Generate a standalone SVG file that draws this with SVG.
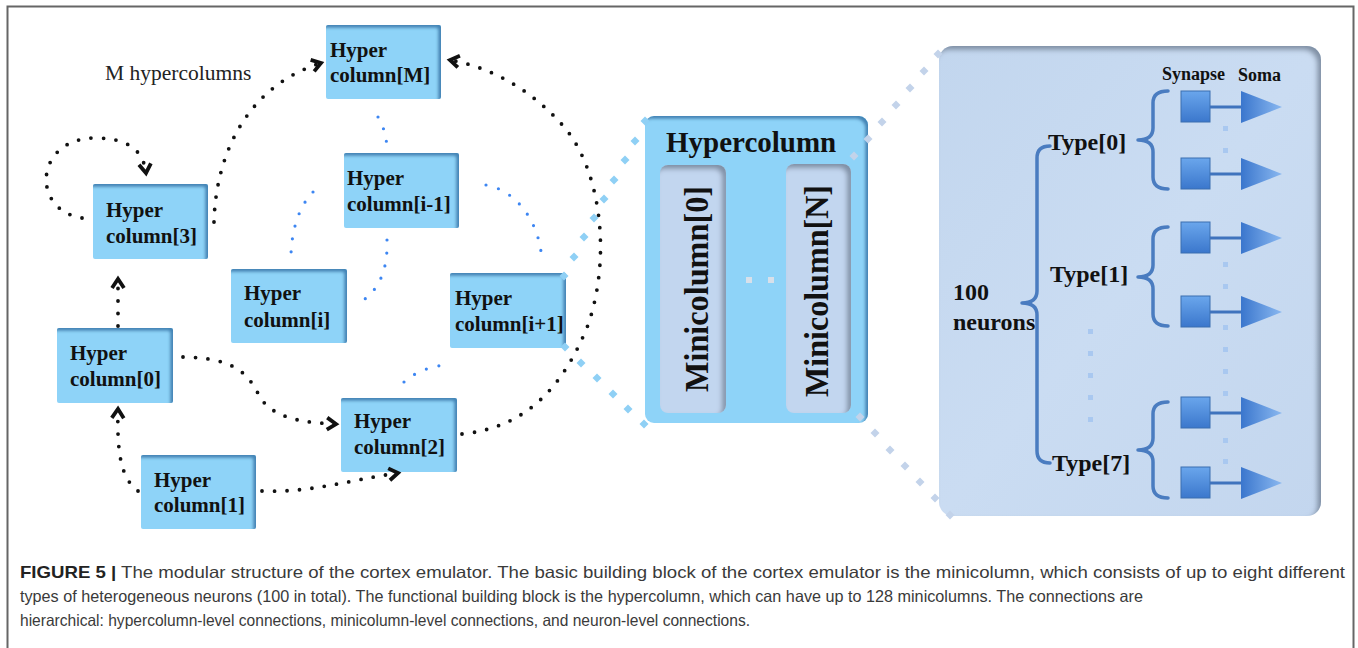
<svg xmlns="http://www.w3.org/2000/svg" width="1358" height="648" viewBox="0 0 1358 648">
<style>
.hc { fill:#8ed3f8; filter:url(#insetBlue); }
.hct { font-family:"Liberation Serif","Times New Roman",serif; font-weight:bold; font-size:21px; fill:#111; }
.big { font-family:"Liberation Serif","Times New Roman",serif; font-weight:bold; fill:#111; }
.dotk { fill:none; stroke:#111; stroke-width:3.8; stroke-linecap:round; stroke-dasharray:0 12.5; }
.dotb { fill:none; stroke:#3d86f2; stroke-width:3.2; stroke-linecap:round; stroke-dasharray:0 13; }
.br { fill:none; stroke:#4a7cc0; stroke-width:3.5; stroke-linecap:round; stroke-linejoin:round; }
.syn { fill:url(#gSyn); stroke:#3b6fb0; stroke-width:1; }
.axon { stroke:#3f73bd; stroke-width:3; }
.soma { fill:url(#gSoma); }
.vd { fill:#a9c8f0; }
.cap { font-family:"Liberation Sans",Arial,sans-serif; font-size:16.5px; fill:#3a3a3a; }
</style>
<defs>
<filter id="insetBlue" x="-10%" y="-10%" width="120%" height="120%">
<feComponentTransfer in="SourceAlpha"><feFuncA type="table" tableValues="1 0"/></feComponentTransfer>
<feGaussianBlur stdDeviation="1.6"/>
<feOffset dx="-3" dy="3" result="ob"/>
<feFlood flood-color="#3579ad" flood-opacity="0.9"/>
<feComposite in2="ob" operator="in"/>
<feComposite in2="SourceAlpha" operator="in" result="sh"/>
<feMerge><feMergeNode in="SourceGraphic"/><feMergeNode in="sh"/></feMerge>
</filter>
<filter id="insetGray" x="-10%" y="-10%" width="120%" height="120%">
<feComponentTransfer in="SourceAlpha"><feFuncA type="table" tableValues="1 0"/></feComponentTransfer>
<feGaussianBlur stdDeviation="2.5"/>
<feOffset dx="-4" dy="4" result="ob"/>
<feFlood flood-color="#6d7d92" flood-opacity="0.85"/>
<feComposite in2="ob" operator="in"/>
<feComposite in2="SourceAlpha" operator="in" result="sh"/>
<feMerge><feMergeNode in="SourceGraphic"/><feMergeNode in="sh"/></feMerge>
</filter>
<linearGradient id="gSyn" x1="0" y1="0" x2="0" y2="1"><stop offset="0" stop-color="#6aa6ec"/><stop offset="1" stop-color="#3b77cc"/></linearGradient>
<linearGradient id="gSoma" x1="0" y1="0" x2="1" y2="0"><stop offset="0" stop-color="#3a76cd"/><stop offset="1" stop-color="#8ab8f0"/></linearGradient>
<linearGradient id="gNeu" x1="0" y1="0" x2="1" y2="1"><stop offset="0" stop-color="#c2d6ee"/><stop offset="0.5" stop-color="#cadcf2"/><stop offset="1" stop-color="#c3d6ee"/></linearGradient>
<marker id="chev" viewBox="-14 -9 16 18" markerWidth="16" markerHeight="18" refX="0" refY="0" orient="auto" markerUnits="userSpaceOnUse" overflow="visible"><path d="M-9,-6 L0,0 L-9,6" fill="none" stroke="#111" stroke-width="3.8"/></marker>
<marker id="diaL" viewBox="-5 -5 10 10" markerWidth="10" markerHeight="10" refX="0" refY="0" orient="0" markerUnits="userSpaceOnUse"><path d="M0,-4.5 L4.5,0 L0,4.5 L-4.5,0Z" fill="#8fd0f5"/></marker>
<marker id="diaG" viewBox="-5 -5 10 10" markerWidth="10" markerHeight="10" refX="0" refY="0" orient="0" markerUnits="userSpaceOnUse"><path d="M0,-4.5 L4.5,0 L0,4.5 L-4.5,0Z" fill="#c3d3ea"/></marker>
</defs>
<rect x="7.5" y="6.5" width="1346" height="700" fill="#fff" stroke="#666" stroke-width="2"/>

<text x="105" y="80" font-family="Liberation Serif, Times New Roman, serif" font-size="21.5" fill="#222">M hypercolumns</text>

<g id="hc-M"><rect class="hc" x="326" y="25" width="115" height="74" rx="2"/><text class="hct" x="330" y="57">Hyper</text><text class="hct" x="330" y="82">column[M]</text></g>
<g id="hc-3"><rect class="hc" x="93" y="184" width="115" height="75" rx="2"/><text class="hct" x="106" y="217">Hyper</text><text class="hct" x="106" y="243">column[3]</text></g>
<g id="hc-im1"><rect class="hc" x="344" y="153" width="115" height="75" rx="2"/><text class="hct" x="347" y="185">Hyper</text><text class="hct" x="347" y="211">column[i-1]</text></g>
<g id="hc-i"><rect class="hc" x="231" y="269" width="116" height="74" rx="2"/><text class="hct" x="244" y="300">Hyper</text><text class="hct" x="244" y="327">column[i]</text></g>
<g id="hc-ip1"><rect class="hc" x="450" y="273" width="116" height="75" rx="2"/><text class="hct" x="455" y="305">Hyper</text><text class="hct" x="455" y="331">column[i+1]</text></g>
<g id="hc-0"><rect class="hc" x="57" y="328" width="116" height="75" rx="2"/><text class="hct" x="70" y="360">Hyper</text><text class="hct" x="70" y="386">column[0]</text></g>
<g id="hc-2"><rect class="hc" x="341" y="398" width="116" height="74" rx="2"/><text class="hct" x="354" y="428">Hyper</text><text class="hct" x="354" y="454">column[2]</text></g>
<g id="hc-1"><rect class="hc" x="141" y="455" width="115" height="74" rx="2"/><text class="hct" x="154" y="487">Hyper</text><text class="hct" x="154" y="512">column[1]</text></g>

<g id="hypercolumn">
<rect x="645" y="116" width="223" height="307" rx="9" fill="#8ed3f8" filter="url(#insetBlue)"/>
<text class="big" x="666" y="152" font-size="29">Hypercolumn</text>
<g id="minicolumn-0"><rect x="660" y="165" width="66" height="248" rx="8" fill="#c2d6ef" filter="url(#insetGray)"/><text class="big" font-size="33" text-anchor="middle" textLength="206" lengthAdjust="spacingAndGlyphs" transform="translate(708,289) rotate(-90)">Minicolumn[0]</text></g>
<g id="minicolumn-N"><rect x="786" y="164" width="65" height="249" rx="8" fill="#c2d6ef" filter="url(#insetGray)"/><text class="big" font-size="33" text-anchor="middle" textLength="212" lengthAdjust="spacingAndGlyphs" transform="translate(828,291) rotate(-90)">Minicolumn[N]</text></g>
<rect x="746" y="277" width="6" height="6" fill="#d8e0ea"/><rect x="768" y="277" width="6" height="6" fill="#d8e0ea"/>
</g>

<g id="neurons">
<rect x="939" y="46" width="382" height="470" rx="14" fill="url(#gNeu)" filter="url(#insetGray)"/>
<text class="big" x="1162" y="80" font-size="18">Synapse</text>
<text class="big" x="1238" y="81" font-size="18">Soma</text>
<text class="big" x="953" y="300" font-size="24">100</text>
<text class="big" x="953" y="330" font-size="24">neurons</text>
<text class="big" x="1048" y="150" font-size="24">Type[0]</text>
<text class="big" x="1050" y="282" font-size="24">Type[1]</text>
<text class="big" x="1052" y="471" font-size="24">Type[7]</text>
<g id="brackets">
<path class="br" d="M1050,146 Q1037,146 1037,158 L1037,291 Q1037,303 1022,303 Q1037,303 1037,315 L1037,451 Q1037,463 1050,463"/>
<path class="br" d="M1168,91 Q1153,91 1153,103 L1153,128 Q1153,140 1138,140 Q1153,140 1153,152 L1153,177 Q1153,189 1168,189"/>
<path class="br" d="M1168,227 Q1153,227 1153,239 L1153,265 Q1153,277 1138,277 Q1153,277 1153,289 L1153,314 Q1153,326 1168,326"/>
<path class="br" d="M1168,402 Q1153,402 1153,414 L1153,438 Q1153,450 1138,450 Q1153,450 1153,462 L1153,486 Q1153,498 1168,498"/>
</g>
<g id="neuron-1"><rect class="syn" x="1181" y="91" width="29" height="31"/><line class="axon" x1="1210" y1="107" x2="1242" y2="107"/><polygon class="soma" points="1241,91 1282,107 1241,123"/></g>
<g id="neuron-2"><rect class="syn" x="1181" y="158" width="29" height="31"/><line class="axon" x1="1210" y1="174" x2="1242" y2="174"/><polygon class="soma" points="1241,158 1282,174 1241,190"/></g>
<g id="neuron-3"><rect class="syn" x="1181" y="222" width="29" height="31"/><line class="axon" x1="1210" y1="238" x2="1242" y2="238"/><polygon class="soma" points="1241,222 1282,238 1241,254"/></g>
<g id="neuron-4"><rect class="syn" x="1181" y="296" width="29" height="31"/><line class="axon" x1="1210" y1="312" x2="1242" y2="312"/><polygon class="soma" points="1241,296 1282,312 1241,328"/></g>
<g id="neuron-5"><rect class="syn" x="1181" y="397" width="29" height="31"/><line class="axon" x1="1210" y1="413" x2="1242" y2="413"/><polygon class="soma" points="1241,397 1282,413 1241,429"/></g>
<g id="neuron-6"><rect class="syn" x="1181" y="467" width="29" height="31"/><line class="axon" x1="1210" y1="483" x2="1242" y2="483"/><polygon class="soma" points="1241,467 1282,483 1241,499"/></g>
<g id="ellipsis">
<rect class="vd" x="1223" y="126" width="5" height="5"/><rect class="vd" x="1223" y="148" width="5" height="5"/>
<rect class="vd" x="1223" y="262" width="5" height="5"/><rect class="vd" x="1223" y="284" width="5" height="5"/>
<rect class="vd" x="1223" y="325" width="5" height="5"/><rect class="vd" x="1223" y="347" width="5" height="5"/><rect class="vd" x="1223" y="369" width="5" height="5"/><rect class="vd" x="1223" y="391" width="5" height="5"/>
<rect class="vd" x="1223" y="438" width="5" height="5"/><rect class="vd" x="1223" y="459" width="5" height="5"/>
<rect class="vd" x="1088" y="329" width="5" height="5"/><rect class="vd" x="1088" y="351" width="5" height="5"/><rect class="vd" x="1088" y="373" width="5" height="5"/><rect class="vd" x="1088" y="395" width="5" height="5"/><rect class="vd" x="1088" y="417" width="5" height="5"/>
</g>
</g>

<g id="connectors">
<path class="dotk" d="M214,222 C216,150 250,85 321,63" marker-end="url(#chev)"/>
<path class="dotk" d="M82,218 C30,210 35,138 95,138 C125,138 143,148 146,173" marker-end="url(#chev)"/>
<path class="dotk" d="M118,326 L118,279" marker-end="url(#chev)"/>
<path class="dotk" d="M138,491 C120,478 117,450 118,409" marker-end="url(#chev)"/>
<path class="dotk" d="M183,357 C260,358 250,395 270,408 C285,420 310,423 336,424" marker-end="url(#chev)"/>
<path class="dotk" d="M262,491 C310,493 350,480 398,473" marker-end="url(#chev)"/>
<path class="dotk" d="M462,434 C520,428 560,395 588,325 C612,255 600,170 565,128 C535,93 495,68 450,60" marker-end="url(#chev)"/>
<path class="dotb" d="M378,117 Q386,130 387,148"/>
<path class="dotb" d="M387,240 C388,268 380,292 357,304"/>
<path class="dotb" d="M313,192 C300,205 290,230 291,264"/>
<path class="dotb" d="M486,185 C515,190 540,220 542,262"/>
<path class="dotb" d="M404,382 Q420,368 444,365"/>
<polyline fill="none" stroke="none" points="564,276 574,257 584,237 594,218 604,199 614,180 625,160 635,141 645,121" marker-start="url(#diaL)" marker-mid="url(#diaL)" marker-end="url(#diaL)"/>
<polyline fill="none" stroke="none" points="565,347 581,363 597,378 613,394 628,409 644,424" marker-start="url(#diaL)" marker-mid="url(#diaL)" marker-end="url(#diaL)"/>
<polyline fill="none" stroke="none" points="854,156 868,139 882,122 896,105 910,88 924,71 938,54" marker-start="url(#diaG)" marker-mid="url(#diaG)" marker-end="url(#diaG)"/>
<polyline fill="none" stroke="none" points="860,417 875,433 890,450 905,466 920,482 935,498 950,515" marker-start="url(#diaG)" marker-mid="url(#diaG)" marker-end="url(#diaG)"/>
</g>

<g id="caption">
<text class="cap" x="20" y="578" textLength="1325" lengthAdjust="spacingAndGlyphs"><tspan font-weight="bold" fill="#222">FIGURE 5 |</tspan> The modular structure of the cortex emulator. The basic building block of the cortex emulator is the minicolumn, which consists of up to eight different</text>
<text class="cap" x="20" y="602" textLength="1123" lengthAdjust="spacingAndGlyphs">types of heterogeneous neurons (100 in total). The functional building block is the hypercolumn, which can have up to 128 minicolumns. The connections are</text>
<text class="cap" x="20" y="626" textLength="730" lengthAdjust="spacingAndGlyphs">hierarchical: hypercolumn-level connections, minicolumn-level connections, and neuron-level connections.</text>
</g>
</svg>
